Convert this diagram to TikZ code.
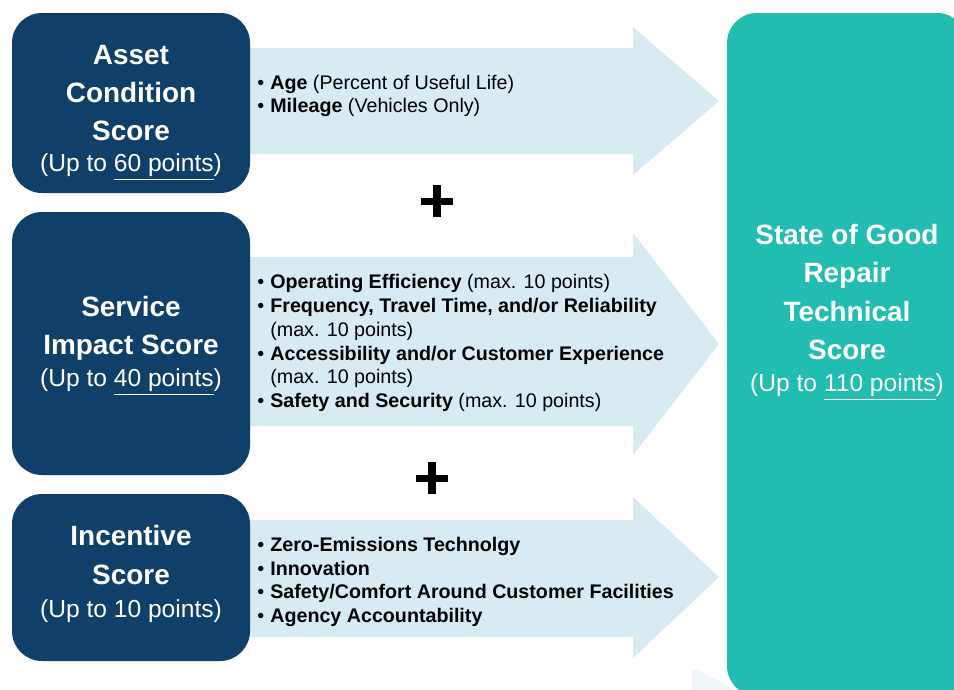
\documentclass[tikz,border=0pt]{standalone}
\usepackage{fontspec}
\setmainfont{Liberation Sans}
\usetikzlibrary{positioning}

\definecolor{scoreblue}{RGB}{16,64,106}
\definecolor{arrowblue}{RGB}{216,234,242}
\definecolor{totalgreen}{RGB}{32,189,176}

% bullet and hanging indent for the item lists
\newcommand{\bul}{\makebox[7.4pt][l]{\textbullet}}
\newcommand{\cont}{\hspace*{7.4pt}}

\tikzset{
  scorebox/.style={fill=scoreblue, rounded corners=0.6cm},
  flowarrow/.style={fill=arrowblue},
  boxtitle/.style={text=white, align=center, inner sep=0pt,
    font=\bfseries\fontsize{15.9}{21.8}\selectfont},
  boxpoints/.style={text=white, inner sep=0pt, font=\fontsize{14}{16}\selectfont},
  itemlist/.style={anchor=west, align=left, inner sep=0pt,
    font=\fontsize{11.2}{13.6}\selectfont}
}

\begin{document}
\begin{tikzpicture}[x=0.02cm,y=-0.02cm]
  \useasboundingbox (0,0) rectangle (954,690);
  \clip (0,0) rectangle (954,690);

  % block arrows: body top/bottom, head top/bottom, tip
  \foreach \bt/\bb/\ht/\hb/\c in {48/154/27/175/101,257/426/233/455/344,520/637/497/658/577} {
    \fill[flowarrow] (240,\bt) -- (633,\bt) -- (633,\ht) -- (719,\c)
      -- (633,\hb) -- (633,\bb) -- (240,\bb) -- cycle;
  }
  \fill[arrowblue!40] (692,690) -- (692,671) -- (697,669) -- (735,690) -- cycle;

  % score boxes
  \fill[scorebox] (12,13) rectangle (250,193);
  \fill[scorebox] (12,212) rectangle (250,475);
  \fill[scorebox] (12,494) rectangle (250,661);
  \fill[totalgreen, rounded corners=0.6cm] (727,13) rectangle (967,696);

  \node[boxtitle] (asset) at (131,93) {Asset\\Condition\\Score};
  \node[boxpoints] (assetpts) at (131,167) {(Up to \underline{60 points})};
  \node[boxtitle] (service) at (131,328) {Service\\Impact Score};
  \node[boxpoints] (servicepts) at (131,382) {(Up to \underline{40 points})};
  \node[boxtitle] (incentive) at (131,555) {Incentive\\Score};
  \node[boxpoints] (incentivepts) at (131,611) {(Up to 10 points)};
  \node[boxtitle] (sgr) at (847,292) {State of Good\\Repair\\Technical\\Score};
  \node[boxpoints] (sgrpts) at (847,387) {(Up to \underline{110 points})};

  % item lists
  \node[itemlist] (assetlist) at (257,96) {\bul\textbf{Age} (Percent of Useful Life)\\
    \bul\textbf{Mileage} (Vehicles Only)};
  \node[itemlist] (servicelist) at (257,343) {\bul\textbf{Operating Efficiency} (max. 10 points)\\
    \bul\textbf{Frequency, Travel Time, and/or Reliability}\\
    \cont(max. 10 points)\\
    \bul\textbf{Accessibility and/or Customer Experience}\\
    \cont(max. 10 points)\\
    \bul\textbf{Safety and Security} (max. 10 points)};
  \node[itemlist] (incentivelist) at (257,582) {\bul\textbf{Zero-Emissions Technolgy}\\
    \bul\textbf{Innovation}\\
    \bul\textbf{Safety/Comfort Around Customer Facilities}\\
    \bul\textbf{Agency Accountability}};

  % plus signs between the rows
  \foreach \px/\py in {437/201,432/478} {
    \fill (\px-4,\py-16) rectangle (\px+4,\py+16);
    \fill (\px-16,\py-3.5) rectangle (\px+16,\py+3.5);
  }
\end{tikzpicture}
\end{document}
